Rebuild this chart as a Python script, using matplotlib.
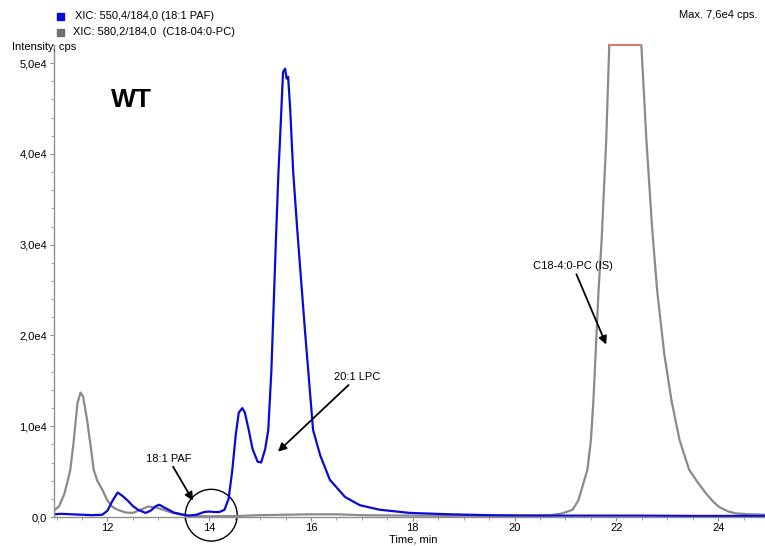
import numpy as np
import matplotlib.pyplot as plt
from matplotlib.patches import Rectangle, Ellipse
from matplotlib.ticker import FuncFormatter, MultipleLocator

plt.rcParams['font.family'] = ['Liberation Sans', 'DejaVu Sans']

# ----------------------------------------------
# DATA
# ----------------------------------------------
# XIC 550,4/184,0 (18:1 PAF) - blue
paf_t = [10.95, 11.1, 11.3, 11.5, 11.7, 11.9, 12.0, 12.1, 12.2, 12.3, 12.4, 12.5,
         12.6, 12.75, 12.85, 12.95, 13.02, 13.1, 13.2, 13.3, 13.45, 13.6, 13.75,
         13.9, 14.0, 14.1, 14.2, 14.3, 14.38, 14.45, 14.52, 14.58, 14.65, 14.7,
         14.78, 14.85, 14.95, 15.02, 15.1, 15.16, 15.22, 15.27, 15.31, 15.36,
         15.39, 15.45, 15.49, 15.52, 15.55, 15.59, 15.65, 15.73, 15.88, 16.04,
         16.18, 16.37, 16.67, 16.96, 17.35, 17.94, 18.7, 19.5, 20.5, 21.5, 22.5,
         23.5, 24.5, 24.95]
paf_i = [300, 350, 300, 250, 200, 250, 700, 1800, 2700, 2300, 1800, 1200,
         800, 450, 700, 1200, 1350, 1100, 800, 500, 300, 150, 250,
         550, 600, 550, 550, 800, 2000, 5000, 9000, 11500, 12000, 11500,
         9500, 7500, 6100, 6000, 7500, 9600, 16000, 24000, 30500, 38000,
         41500, 49000, 49400, 48300, 48500, 45000, 38000, 31600, 20600, 9600,
         6800, 4100, 2200, 1300, 800, 450, 300, 200, 150, 150, 150,
         120, 120, 120]

# XIC 580,2/184,0 (C18-04:0-PC, internal standard) - grey
pc_t = [10.95, 11.05, 11.15, 11.22, 11.27, 11.33, 11.41, 11.47, 11.52, 11.6,
        11.67, 11.73, 11.8, 11.9, 12.0, 12.1, 12.2, 12.35, 12.5, 12.65, 12.8,
        12.95, 13.1, 13.25, 13.45, 13.7, 14.0, 14.5, 15.0, 15.5, 16.0, 16.5,
        17.0, 18.0, 19.0, 20.0, 20.7, 20.94, 21.14, 21.25, 21.33, 21.43, 21.5,
        21.55, 21.6, 21.65, 21.71, 21.8, 21.86, 21.95, 22.1, 22.3, 22.45, 22.49,
        22.59, 22.7, 22.8, 22.94, 23.08, 23.24, 23.43, 23.6, 23.76, 23.9, 24.02,
        24.2, 24.35, 24.6, 24.95]
pc_i = [700, 1200, 2500, 4000, 5200, 8000, 12500, 13700, 13300, 10700,
        7800, 5200, 4000, 3000, 1800, 1100, 800, 500, 450, 800, 1150,
        1050, 800, 500, 250, 100, 80, 100, 200, 250, 300, 300,
        200, 150, 100, 120, 200, 400, 800, 1800, 3300, 5200, 8500,
        13000, 19000, 25000, 30500, 41500, 52000, 65000, 75000, 76000, 62000, 52000,
        41500, 32000, 25000, 18000, 12900, 8500, 5200, 3800, 2600, 1700, 1100,
        600, 400, 300, 250]

y_top = 5.2e4

# ----------------------------------------------
# PLOT
# ----------------------------------------------
fig = plt.figure(figsize=(7.65, 5.46), dpi=100)
ax = fig.add_axes([0.0706, 0.0531, 0.9294, 0.8645])

ax.plot(pc_t, pc_i, color='#8a8a8a', lw=1.6)
ax.plot(paf_t, paf_i, color='#0a0ad8', lw=1.6)

# saturation marker on top of the clipped IS peak
pc_t_arr = np.array(pc_t)
pc_i_arr = np.array(pc_i)
sat = pc_i_arr >= y_top
ax.plot(pc_t_arr[sat], np.full(sat.sum(), y_top), color='#e07070', lw=1.4, clip_on=False)

ax.set_xlim(10.95, 24.92)
ax.set_ylim(0, y_top)

for side in ['top', 'right']:
    ax.spines[side].set_visible(False)
for side in ['left', 'bottom']:
    ax.spines[side].set_color('#909090')
    ax.spines[side].set_linewidth(1.0)

ax.xaxis.set_major_locator(MultipleLocator(2))
ax.xaxis.set_minor_locator(MultipleLocator(0.5))
ax.yaxis.set_major_locator(MultipleLocator(1e4))
ax.yaxis.set_minor_locator(MultipleLocator(2e3))
ax.yaxis.set_major_formatter(FuncFormatter(
    lambda v, p: "0,0" if v == 0 else f"{v / 1e4:.1f}e4".replace('.', ',')))
ax.tick_params(which='both', color='#909090', labelsize=8, direction='out')
ax.tick_params(which='major', length=3, pad=2)
ax.tick_params(axis='x', which='major', pad=1.5)
ax.tick_params(which='minor', length=2.5)

# axis labels, placed like the instrument software does
fig.text(12 / 765, 1 - 47 / 546, "Intensity, cps", fontsize=8, va='center', ha='left')
fig.text(389 / 765, 1 - 540 / 546, "Time, min", fontsize=8, va='center', ha='left')
fig.text(757 / 765, 1 - 15 / 546, "Max. 7,6e4 cps.", fontsize=8, va='center', ha='right')

# legend
fig.patches.append(Rectangle((57 / 765, 1 - 20 / 546), 7 / 765, 7 / 546,
                             transform=fig.transFigure, color='#0a0ad8'))
fig.patches.append(Rectangle((57 / 765, 1 - 36 / 546), 7 / 765, 7 / 546,
                             transform=fig.transFigure, color='#707070'))
fig.text(75 / 765, 1 - 16 / 546, "XIC: 550,4/184,0 (18:1 PAF)", fontsize=8, va='center')
fig.text(73 / 765, 1 - 32 / 546, "XIC: 580,2/184,0  (C18-04:0-PC)", fontsize=8, va='center')

# genotype
ax.text(12.47, 4.59e4, "WT", fontsize=19, fontweight='bold', va='center', ha='center')

# annotations
arrow = dict(arrowstyle='-|>', color='black', lw=1.3, mutation_scale=12, shrinkA=0, shrinkB=0)
ax.annotate("18:1 PAF", xy=(13.68, 1.8e3), xytext=(13.2, 6.4e3), fontsize=8,
            ha='center', va='center', arrowprops=arrow)
ax.annotate("20:1 LPC", xy=(15.35, 7.2e3), xytext=(16.9, 1.54e4), fontsize=8,
            ha='center', va='center', arrowprops=arrow)
ax.annotate("C18-4:0-PC (IS)", xy=(21.8, 1.9e4), xytext=(21.15, 2.76e4), fontsize=8,
            ha='center', va='center', arrowprops=arrow)

ax.add_patch(Ellipse((14.04, 200), 1.02, 5.7e3, fill=False, ec='black', lw=1.0, clip_on=False))

fig.savefig("out.png", dpi=100)
